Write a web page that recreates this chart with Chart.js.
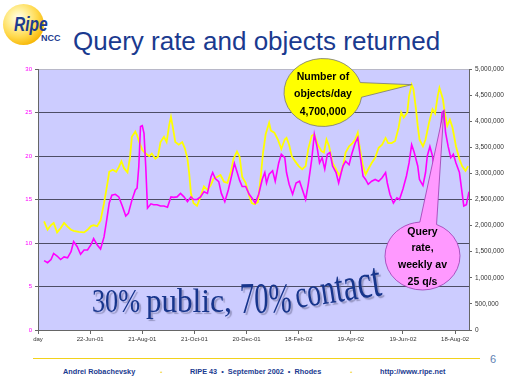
<!DOCTYPE html>
<html>
<head>
<meta charset="utf-8">
<script src="https://cdn.jsdelivr.net/npm/chart.js@4.4.1/dist/chart.umd.min.js"></script>
<style>
  html, body { margin: 0; padding: 0; background: #fff; }
  #slide { position: relative; width: 512px; height: 384px; overflow: hidden; font-family: "Liberation Sans", Arial, sans-serif; }
  .abs { position: absolute; white-space: pre; line-height: 1; }
  #logoBall { left: 3px; top: 4px; width: 41px; height: 41px; border-radius: 50%;
    background: radial-gradient(circle at 38% 35%, #fffef2 0%, #fff3a8 22%, #ffd84a 52%, #f6b400 78%, #e89800 100%); }
  #logoRipe { left: 14px; top: 12px; font: italic bold 21px "Liberation Sans", Arial, sans-serif; color: #1d3c8f; transform: scaleX(0.74); transform-origin: left top; }
  #logoNcc { left: 41px; top: 33px; font: bold 9px "Liberation Sans", Arial, sans-serif; color: #1d3c8f; }
  #title { left: 73px; top: 28px; font-size: 26px; color: #1a3a8f; }
  #chartBox { position: absolute; left: 0; top: 50px; width: 512px; height: 300px; }
  #rule { left: 33px; top: 358px; width: 447px; height: 0; border-top: 1.5px solid #f2d21c; }
  #page { left: 490px; top: 354px; font-size: 11px; color: #5f7fb3; }
  .foot { top: 368px; font-weight: bold; font-size: 7.3px; color: #1a3a8f; }
  .dot { top: 366px; font-weight: bold; font-size: 9px; color: #f2d21c; }
</style>
</head>
<body>
<div id="slide">
  <div class="abs" id="logoBall"></div>
  <div class="abs" id="logoRipe">Ripe</div>
  <div class="abs" id="logoNcc">NCC</div>
  <div class="abs" id="title">Query rate and objects returned</div>
  <div id="chartBox"><canvas id="chart" width="512" height="300"></canvas></div>
  <div class="abs" id="rule"></div>
  <div class="abs" id="page">6</div>
  <div class="abs foot" style="left:63px">Andrei Robachevsky</div>
  <div class="abs dot" style="left:160px">.</div>
  <div class="abs foot" style="left:190px">RIPE 43  •  September 2002  •  Rhodes</div>
  <div class="abs dot" style="left:350px">.</div>
  <div class="abs foot" style="left:380px">http://www.ripe.net</div>
</div>
<script>
// x axis: days since the first ("day") category, one label every 60 days
const tickLabels = ["day", "22-Jun-01", "21-Aug-01", "21-Oct-01", "20-Dec-01",
  "18-Feb-02", "19-Apr-02", "19-Jun-02", "18-Aug-02"];
const tickStep = 60;
const dayMax = 496;

// query rate, weekly average (q/s), left axis
const queryDays = [7, 11, 15, 18, 22, 26, 30, 34, 38, 41, 45, 49, 53, 57, 61, 64, 68, 72, 76, 79,
  82, 85, 89, 93, 97, 101, 104, 108, 112, 114, 116, 118, 120, 122, 124, 126, 130, 133, 137, 141,
  145, 149, 153, 156, 160, 164, 168, 172, 176, 179, 183, 187, 191, 195, 199, 201, 204, 208, 211, 215,
  219, 223, 226, 229, 232, 235, 239,
  243, 246, 250, 254, 258, 261, 263, 266, 270, 273, 277, 280, 284, 286, 289, 293, 297, 301, 304, 308,
  311, 315, 318, 321, 324, 327, 330, 333, 336, 339, 343, 346, 349, 351, 354, 358, 361, 365, 368, 370,
  374, 377, 380, 384, 388, 392, 396, 400, 402, 405, 409, 413, 416, 420, 424, 427, 430, 433, 437, 439,
  443, 446, 448, 451, 454, 457, 460, 462, 465, 467, 469, 472, 475, 478, 481, 485, 488, 490, 493, 496];
const queryRate = [7.97, 7.74, 8.1, 8.8, 8.5, 8.1, 8.4, 8.3, 9.0, 10.15, 9.6, 8.7, 9.2, 9.2, 9.8, 10.5, 9.8, 9.3, 10.7, 12.6,
  14.6, 15.5, 15.6, 15.3, 14.25, 13.1, 13.4, 14.9, 16.1, 16.3, 18.8, 23.4, 23.5, 22.6, 18.8, 14.0, 14.5, 14.4, 14.4, 14.25,
  14.25, 14.1, 15.3, 15.25, 15.3, 15.7, 15.3, 14.75, 15.3, 15.0, 15.0, 15.3, 15.9, 15.7, 17.6, 18.1, 17.4, 17.05, 15.7, 14.75,
  16.1, 17.8, 19.15, 18.2, 17.2, 16.5, 16.5,
  15.6, 15.2, 14.6, 15.6, 17.3, 18.1, 16.9, 17.9, 18.3, 17.1, 19.2, 20.2, 19.8, 18.1, 16.75, 15.6, 16.9, 17.1, 16.2, 15.0,
  16.75, 19.6, 22.5, 21.1, 19.2, 19.8, 18.5, 20.2, 20.4, 18.85, 18.1, 16.9, 18.1, 18.85, 19.4, 19.0, 20.2, 21.5, 22.1, 20.6,
  17.7, 17.3, 16.75, 17.1, 17.3, 17.1, 17.5, 18.1, 16.9, 15.6, 14.6, 15.2, 15.0, 16.2, 17.7, 19.2, 21.3, 20.4, 18.85, 17.3,
  16.6, 18.1, 20.0, 21.1, 20.0, 17.7, 18.5, 20.8, 25.0, 25.2, 22.7, 21.1, 19.8, 20.2, 19.2, 18.1, 15.8, 14.25, 14.4, 15.9];

// number of objects returned per day, right axis
const objectDays = [7, 11, 15, 18, 22, 26, 30, 34, 38, 41, 47, 53, 57, 61, 64, 68, 72, 76, 80, 82,
  86, 90, 93, 96, 99, 103, 106, 108, 112, 114, 117, 120, 124, 128, 131, 135, 138, 141, 145, 148,
  151, 153, 155, 158, 162, 166, 169, 172, 174, 176, 179, 183, 187, 191, 195, 199, 202, 206, 210, 214,
  218, 222, 225, 229, 232, 235, 239,
  243, 246, 249, 253, 256, 259, 262, 266, 268, 272, 276, 280, 284, 286, 289, 292, 296, 300, 304, 308,
  311, 315, 318, 322, 326, 329, 332, 335, 339, 343, 347, 351, 354, 358, 362, 365, 368, 370, 374, 377,
  380, 384, 388, 392, 396, 400, 403, 407, 411, 415, 418, 421, 425, 427, 430, 432, 435, 437, 439, 443,
  446, 450, 454, 457, 460, 462, 466, 468, 471, 474, 477, 481, 485, 488, 492, 495];
const objectsPerDay = [2080000, 1920000, 2010000, 2050000, 1870000, 1950000, 2050000, 1980000, 1920000, 1900000,
  1880000, 1870000, 1920000, 1990000, 2010000, 1990000, 2100000, 2430000, 2820000, 3030000,
  3070000, 3030000, 3120000, 3230000, 3100000, 3020000, 3320000, 3700000, 3800000, 3730000,
  3580000, 3450000, 3380000, 3330000, 3380000, 3280000, 3320000, 3600000, 3700000, 3600000,
  3930000, 4080000, 3900000, 3600000, 3550000, 3600000, 3480000, 3280000, 3000000, 2620000,
  2430000, 2380000, 2550000, 2750000, 2680000, 2780000, 2900000, 2930000, 2970000, 2840000,
  2820000, 3030000, 3280000, 3420000, 3320000, 2930000, 2820000,
  2570000, 2430000, 2410000, 2450000, 2880000, 3400000, 3750000, 3970000, 3820000, 3780000,
  3650000, 3470000, 3650000, 3680000, 3550000, 3330000, 3230000, 3140000, 3080000, 3140000,
  3470000, 3720000, 3750000, 3550000, 3430000, 3400000, 3650000, 3520000, 3200000, 3080000,
  2950000, 3140000, 3400000, 3520000, 3580000, 3650000, 3780000, 3520000, 3140000, 2980000,
  3080000, 3200000, 3300000, 3490000, 3550000, 3680000, 3580000, 3580000, 3620000, 3880000,
  4170000, 4070000, 4170000, 4480000, 4700000, 4620000, 4230000, 3910000, 3650000, 3520000,
  3650000, 3970000, 4230000, 4150000, 4480000, 4640000, 4420000, 4170000, 3910000, 4030000,
  3880000, 3520000, 3270000, 3140000, 3050000, 3140000];

const OY = 50; // canvas top on the slide
const sans = '"Liberation Sans", Arial, sans-serif';
Chart.defaults.font.family = sans;

function peak(days, values) {
  let k = 0;
  values.forEach((v, i) => { if (v > values[k]) k = i; });
  return { x: days[k], y: values[k] };
}

function callout(ctx, o) {
  const r = Math.PI / 180;
  ctx.save();
  ctx.beginPath();
  ctx.ellipse(o.cx, o.cy, o.rx, o.ry, 0, o.a1 * r, (o.a0 + 360) * r);
  ctx.lineTo(o.tip.x, o.tip.y);
  ctx.closePath();
  ctx.fillStyle = o.fill;
  ctx.fill();
  ctx.lineWidth = 0.8;
  ctx.strokeStyle = o.stroke;
  ctx.stroke();
  ctx.fillStyle = "#000";
  ctx.font = "bold 10.5px " + sans;
  ctx.textAlign = "center";
  ctx.textBaseline = "middle";
  o.lines.forEach((t, i) => ctx.fillText(t, o.cx, o.ty + i * o.gap));
  ctx.restore();
}

// WordArt-like text: each char scaled / lifted along its own baseline
function wordArt(ctx, w) {
  ctx.save();
  ctx.fillStyle = "#17358c";
  ctx.shadowColor = "rgba(110,110,150,0.55)";
  ctx.shadowOffsetX = 2;
  ctx.shadowOffsetY = 2;
  ctx.shadowBlur = 1;
  const chars = [...w.text];
  const n = chars.length;
  const sizes = chars.map((c, i) => w.s0 + (w.s1 - w.s0) * (n > 1 ? i / (n - 1) : 0));
  const widths = chars.map((c, i) => {
    ctx.font = sizes[i] + 'px "Liberation Serif", "Times New Roman", serif';
    return ctx.measureText(c).width;
  });
  const total = widths.reduce((a, b) => a + b, 0);
  const sx = (w.x1 - w.x0) / total;
  const ang = Math.atan2(w.y1 - w.y0, w.x1 - w.x0);
  let acc = 0;
  chars.forEach((c, i) => {
    const x = w.x0 + acc * sx;
    const f = (x - w.x0) / (w.x1 - w.x0);
    const y = w.y0 + (w.y1 - w.y0) * f - OY;
    ctx.save();
    ctx.translate(x, y);
    ctx.rotate(ang);
    ctx.scale(sx, 1);
    ctx.font = sizes[i] + 'px "Liberation Serif", "Times New Roman", serif';
    ctx.fillText(c, 0, 0);
    ctx.restore();
    acc += widths[i];
  });
  ctx.restore();
}

const slidePlugin = {
  id: "slide",
  beforeDraw(chart) {
    const { ctx, chartArea: a } = chart;
    ctx.save();
    ctx.fillStyle = "#ccccff";
    ctx.fillRect(a.left, a.top, a.right - a.left, a.bottom - a.top);
    ctx.restore();
  },
  afterDraw(chart) {
    const { ctx, scales } = chart;
    [
      { text: "30%", x0: 92, x1: 140, y0: 312, y1: 312, s0: 33, s1: 33 },
      { text: "public,", x0: 146, x1: 232, y0: 312, y1: 312, s0: 33, s1: 34 },
      { text: "70%", x0: 240, x1: 292, y0: 313, y1: 312, s0: 44, s1: 42 },
      { text: "contact", x0: 297, x1: 383, y0: 308, y1: 295, s0: 39, s1: 50 },
    ].forEach((w) => wordArt(ctx, w));

    const po = peak(objectDays, objectsPerDay);
    callout(ctx, {
      cx: 323, cy: 92.5 - OY, rx: 39, ry: 34, a0: -17, a1: 8,
      tip: { x: scales.x.getPixelForValue(po.x), y: scales.y2.getPixelForValue(po.y) },
      fill: "#ffff00", stroke: "#777",
      lines: ["Number of", "objects/day", "4,700,000"], ty: 77 - OY, gap: 17.5,
    });
    const pq = peak(queryDays, queryRate);
    callout(ctx, {
      cx: 422.5, cy: 256 - OY, rx: 37.5, ry: 34, a0: -94, a1: -68,
      tip: { x: scales.x.getPixelForValue(pq.x), y: scales.y.getPixelForValue(pq.y) },
      fill: "#ff99ff", stroke: "#9b3bb0",
      lines: ["Query", "rate,", "weekly av", "25 q/s"], ty: 232 - OY, gap: 16.6,
    });
  },
};

new Chart(document.getElementById("chart"), {
  type: "line",
  data: {
    datasets: [
      {
        label: "Query rate",
        data: queryDays.map((d, i) => ({ x: d, y: queryRate[i] })),
        yAxisID: "y",
        borderColor: "#ff00ff",
        borderWidth: 1.6,
        pointRadius: 0,
        order: 0,
      },
      {
        label: "Objects/day",
        data: objectDays.map((d, i) => ({ x: d, y: objectsPerDay[i] })),
        yAxisID: "y2",
        borderColor: "#ffff00",
        borderWidth: 1.8,
        pointRadius: 0,
        order: 1,
      },
    ],
  },
  options: {
    responsive: false,
    animation: false,
    devicePixelRatio: 1,
    layout: { padding: { top: 19, left: 0, right: 0, bottom: 0 } },
    plugins: { legend: { display: false }, tooltip: { enabled: false } },
    scales: {
      x: {
        type: "linear",
        min: 0,
        max: dayMax,
        afterBuildTicks: (s) => { s.ticks = tickLabels.map((_, i) => ({ value: i * tickStep })); },
        afterFit: (s) => { s.height = 20; },
        ticks: {
          callback: (v) => tickLabels[Math.round(v / tickStep)],
          color: "#333", font: { size: 6 }, padding: 2, maxRotation: 0, autoSkip: false,
        },
        grid: { drawOnChartArea: false, tickLength: 4, tickColor: "#666" },
        border: { color: "#666" },
      },
      y: {
        position: "left",
        min: 0,
        max: 30,
        afterFit: (s) => { s.width = 38; },
        ticks: { stepSize: 5, color: "#ff00ff", font: { size: 6 }, padding: 3 },
        grid: {
          color: (c) => (c.tick.value === 30 ? "#b8b8c8" : "#4d4d66"),
          tickColor: "#666", tickLength: 3,
        },
        border: { color: "#666" },
      },
      y2: {
        position: "right",
        min: 0,
        max: 5000000,
        afterFit: (s) => { s.width = 43; },
        ticks: {
          stepSize: 500000, color: "#333", font: { size: 6.5 }, padding: 3,
          callback: (v) => v.toLocaleString("en-US"),
        },
        grid: { drawOnChartArea: false, tickLength: 3, tickColor: "#666" },
        border: { color: "#666" },
      },
    },
  },
  plugins: [slidePlugin],
});
</script>
</body>
</html>
